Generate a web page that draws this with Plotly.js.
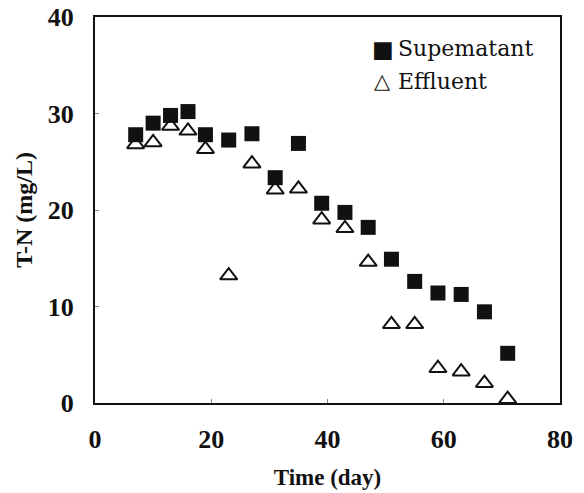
<!DOCTYPE html>
<html>
<head>
<meta charset="utf-8">
<script src="https://cdn.plot.ly/plotly-3.0.1.min.js"></script>
<style>html,body{margin:0;padding:0;background:#fff;}#chart{width:584px;height:493px;}</style>
</head>
<body>
<div id="chart"></div>
<script>
const supDays = [7, 10, 13, 16, 19, 23, 27, 31, 35, 39, 43, 47, 51, 55, 59, 63, 67, 71];
const supTN = [27.8, 29.0, 29.8, 30.2, 27.8, 27.25, 27.9, 23.35, 26.9, 20.7, 19.75, 18.2, 14.9, 12.6, 11.4, 11.25, 9.45, 5.15];
const effDays = [7, 10, 13, 16, 19, 23, 27, 31, 35, 39, 43, 47, 51, 55, 59, 63, 67, 71];
const effTN = [26.8, 27.0, 28.7, 28.2, 26.3, 13.2, 24.8, 22.1, 22.2, 19.0, 18.1, 14.6, 8.15, 8.15, 3.6, 3.25, 2.05, 0.4];
const seriesNames = ["Supematant", "Effluent"];
const legendGlyphs = ["\u25A0", "\u25B3"];
const xTicks = [0, 20, 40, 60, 80];
const yTicks = [0, 10, 20, 30, 40];

const serif = "Liberation Serif";

const traces = [
  {x: supDays, y: supTN, name: seriesNames[0], type: "scatter", mode: "markers", showlegend: false,
   marker: {symbol: "square", size: 15, color: "#111"}},
  {x: effDays, y: effTN, name: seriesNames[1], type: "scatter", mode: "markers", showlegend: false,
   marker: {symbol: "triangle-up-open", size: 15, color: "#111", line: {width: 2, color: "#111"}}}
];

const legendRows = [0.918, 0.833];
const annotations = [{text: "<b>T-N (mg/L)</b>", xref: "paper", yref: "paper", x: -0.153, y: 0.5,
    xanchor: "center", yanchor: "middle", textangle: -90, showarrow: false,
    font: {family: serif, size: 24, color: "#111"}}];
seriesNames.forEach((n, i) => {
  annotations.push({text: legendGlyphs[i], xref: "paper", yref: "paper", x: 0.619, y: legendRows[i],
    xanchor: "center", yanchor: "middle", showarrow: false,
    font: {family: "DejaVu Sans", size: i === 0 ? 23 : 21, color: "#111"}});
  annotations.push({text: n, xref: "paper", yref: "paper", x: 0.647, y: legendRows[i],
    xanchor: "left", yanchor: "middle", showarrow: false,
    font: {family: "DejaVu Serif", size: 22, color: "#111"}});
});

const layout = {
  width: 584, height: 493,
  margin: {l: 95, r: 24, t: 17, b: 90},
  paper_bgcolor: "#fff", plot_bgcolor: "#fff",
  showlegend: false,
  xaxis: {range: [0, 80], tickvals: xTicks, ticktext: xTicks.map(String),
    showgrid: false, zeroline: false, showline: true, mirror: true, linecolor: "#111", linewidth: 2,
    ticks: "inside", ticklen: 4, tickcolor: "#888", ticklabelstandoff: 12,
    tickfont: {family: serif, size: 26, color: "#111", weight: "bold"},
    title: {text: "<b>Time (day)</b>", font: {family: serif, size: 23, color: "#111"}, standoff: 16}},
  yaxis: {range: [0, 40], tickvals: yTicks, ticktext: yTicks.map(String),
    showgrid: false, zeroline: false, showline: true, mirror: true, linecolor: "#111", linewidth: 2,
    ticks: "inside", ticklen: 4, tickcolor: "#888", ticklabelstandoff: 14,
    tickfont: {family: serif, size: 26, color: "#111", weight: "bold"}},
  annotations: annotations
};

Plotly.newPlot("chart", traces, layout, {displayModeBar: false, staticPlot: true});
</script>
</body>
</html>
